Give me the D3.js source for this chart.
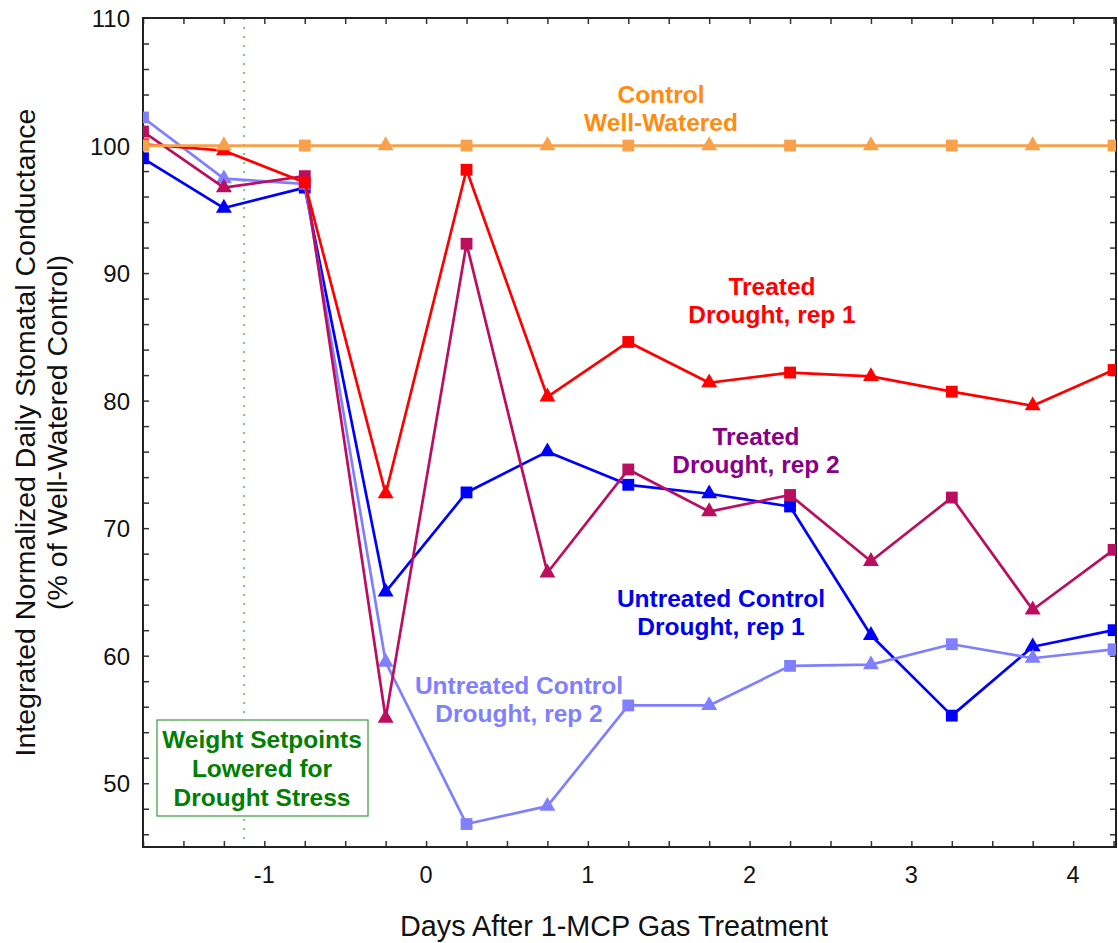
<!DOCTYPE html>
<html>
<head>
<meta charset="utf-8">
<script src="https://cdn.jsdelivr.net/npm/d3@7"></script>
<style>
  body { margin: 0; background: #fff; }
  svg text { font-family: "Liberation Sans", Arial, sans-serif; }
</style>
</head>
<body>
<svg id="chart" width="1118" height="943"></svg>
<script>
// sample days (every half day, marker alternates square / triangle)
const days = [-1.75, -1.25, -0.75, -0.25, 0.25, 0.75, 1.25, 1.75, 2.25, 2.75, 3.25, 3.75, 4.25];

const controlWW = [100, 100, 100, 100, 100, 100, 100, 100, 100, 100, 100, 100, 100];
const treatedRep1 = [100.1, 99.6, 97.1, 72.7, 98.1, 80.3, 84.6, 81.4, 82.2, 81.9, 80.7, 79.6, 82.4];
const treatedRep2 = [101.1, 96.7, 97.6, 55.1, 92.3, 66.5, 74.6, 71.3, 72.6, 67.4, 72.4, 63.6, 68.3];
const untreatedRep1 = [99.0, 95.1, 96.7, 65.0, 72.8, 76.0, 73.4, 72.7, 71.7, 61.6, 55.3, 60.7, 62.0];
const untreatedRep2 = [102.2, 97.4, 97.0, 59.5, 46.8, 48.2, 56.1, 56.1, 59.2, 59.3, 60.9, 59.8, 60.5];

const xTicks = [-1, 0, 1, 2, 3, 4];
const yTicks = [50, 60, 70, 80, 90, 100, 110];
const setpointDay = -1.125;

// drawing order: first is at the bottom
const series = [
  {name: "untreated1", values: untreatedRep1, line: "#0000ff", label: ["Untreated Control", "Drought, rep 1"], lx: 721, ly: 607, lc: "#0000ee"},
  {name: "untreated2", values: untreatedRep2, line: "#8080ff", label: ["Untreated Control", "Drought, rep 2"], lx: 519, ly: 694, lc: "#8080ff"},
  {name: "treated2", values: treatedRep2, line: "#bb0e5f", label: ["Treated", "Drought, rep 2"], lx: 756, ly: 445, lc: "#880088"},
  {name: "treated1", values: treatedRep1, line: "#ff0000", label: ["Treated", "Drought, rep 1"], lx: 772, ly: 295, lc: "#ff0000"},
  {name: "control", values: controlWW, line: "#f9a04b", label: ["Control", "Well-Watered"], lx: 661, ly: 103, lc: "#ff8c11"}
];

const svg = d3.select("#chart");
const margin = {left: 143, right: 2, top: 18, bottom: 96};
const W = 1118, H = 943;

const x = d3.scaleLinear().domain([-1.75, 4.265]).range([margin.left, W - margin.right]);
const y = d3.scaleLinear().domain([45, 110]).range([H - margin.bottom, margin.top]);

const x0 = x.range()[0], x1 = x.range()[1], y0 = y.range()[0], y1 = y.range()[1];

svg.append("defs").append("clipPath").attr("id", "plotClip")
  .append("rect").attr("x", x0).attr("y", y1).attr("width", x1 - x0).attr("height", y0 - y1);

// setpoint marker line
svg.append("line")
  .attr("x1", x(setpointDay)).attr("x2", x(setpointDay))
  .attr("y1", y1).attr("y2", y0)
  .attr("stroke", "#4aa84a").attr("stroke-width", 1.3)
  .attr("stroke-dasharray", "2,7");

// axes with inward ticks on all four sides
const minorX = d3.range(-1.75, 4.3, 0.25);
const minorY = d3.range(46, 110, 2);

const tickStroke = "#333";
const bottomAxis = d3.axisBottom(x).tickValues(minorX).tickSize(-6).tickFormat("");
const topAxis = d3.axisTop(x).tickValues(minorX).tickSize(-6).tickFormat("");
const leftAxis = d3.axisLeft(y).tickValues(minorY).tickSize(-6).tickFormat("");
const rightAxis = d3.axisRight(y).tickValues(minorY).tickSize(-6).tickFormat("");

function styleAxis(g) {
  g.select(".domain").remove();
  g.selectAll(".tick line").attr("stroke", tickStroke).attr("stroke-width", 1.5);
}
svg.append("g").attr("transform", `translate(0,${y0})`).call(bottomAxis).call(styleAxis);
svg.append("g").attr("transform", `translate(0,${y1})`).call(topAxis).call(styleAxis);
svg.append("g").attr("transform", `translate(${x0},0)`).call(leftAxis).call(styleAxis);
svg.append("g").attr("transform", `translate(${x1},0)`).call(rightAxis).call(styleAxis);

// tick labels
svg.append("g").selectAll("text").data(xTicks).join("text")
  .attr("x", d => x(d)).attr("y", y0 + 36)
  .attr("text-anchor", "middle").attr("font-size", 23.5).attr("fill", "#111")
  .text(d => d < 0 ? "-" + Math.abs(d) : d);
svg.append("g").selectAll("text").data(yTicks).join("text")
  .attr("x", x0 - 13).attr("y", d => y(d) + 9)
  .attr("text-anchor", "end").attr("font-size", 24).attr("fill", "#111")
  .text(d => d);

// frame
svg.append("rect")
  .attr("x", x0).attr("y", y1).attr("width", x1 - x0).attr("height", y0 - y1)
  .attr("fill", "none").attr("stroke", "#222").attr("stroke-width", 2);

// annotation box
const box = svg.append("g");
box.append("rect").attr("x", 157).attr("y", 720).attr("width", 211).attr("height", 96)
  .attr("fill", "#fff").attr("stroke", "#3a9a3a").attr("stroke-width", 1.2);
["Weight Setpoints", "Lowered for", "Drought Stress"].forEach((t, i) => {
  box.append("text").attr("x", 262).attr("y", 748 + i * 29)
    .attr("text-anchor", "middle").attr("font-size", 24.5).attr("font-weight", "bold")
    .attr("fill", "#008000").text(t);
});

// series
const plot = svg.append("g").attr("clip-path", "url(#plotClip)");
const line = d3.line().x((d, i) => x(days[i])).y(d => y(d));
const sq = d3.symbol().type(d3.symbolSquare).size(140);
const tri = d3.symbol().type(d3.symbolTriangle).size(110);

series.forEach(s => {
  const g = plot.append("g").attr("class", s.name);
  g.append("path").datum(s.values)
    .attr("d", line).attr("fill", "none")
    .attr("stroke", s.line).attr("stroke-width", 2.7).attr("stroke-linejoin", "round");
  g.selectAll("path.mk").data(s.values).join("path").attr("class", "mk")
    .attr("transform", (d, i) => `translate(${x(days[i])},${y(d)})`)
    .attr("d", (d, i) => i % 2 === 0 ? sq() : tri())
    .attr("fill", s.line);
});

// series labels
series.forEach(s => {
  s.label.forEach((t, i) => {
    svg.append("text").attr("x", s.lx).attr("y", s.ly + i * 28)
      .attr("text-anchor", "middle").attr("font-size", 24.5).attr("font-weight", "bold")
      .attr("fill", s.lc).text(t);
  });
});

// axis titles
svg.append("text").attr("x", 614).attr("y", 936)
  .attr("text-anchor", "middle").attr("font-size", 30).attr("fill", "#111")
  .attr("textLength", 428).attr("lengthAdjust", "spacingAndGlyphs")
  .text("Days After 1-MCP Gas Treatment");
const yt = svg.append("text").attr("transform", `translate(0,${(y0 + y1) / 2}) rotate(-90)`)
  .attr("text-anchor", "middle").attr("font-size", 28.5).attr("fill", "#111");
yt.append("tspan").attr("x", 0).attr("y", 35).text("Integrated Normalized Daily Stomatal Conductance");
yt.append("tspan").attr("x", 0).attr("y", 67).text("(% of Well-Watered Control)");
</script>
</body>
</html>
